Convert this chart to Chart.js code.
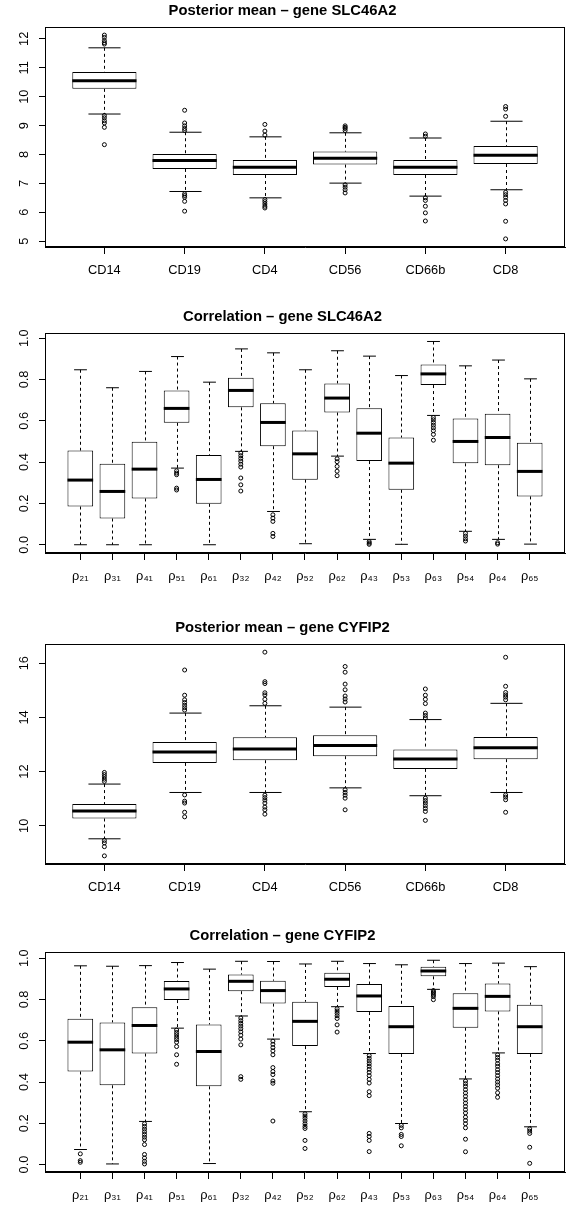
<!DOCTYPE html>
<html>
<head>
<meta charset="utf-8">
<script src="https://cdn.jsdelivr.net/npm/chart.js@4/dist/chart.umd.min.js"></script>
<style>
html, body { margin: 0; padding: 0; background: #fff; }
body { width: 571px; height: 1205px; position: relative; overflow: hidden; }
canvas { position: absolute; left: 0; }
</style>
</head>
<body>
<canvas id="slcMean" width="571" height="300" style="top:0px;width:571px;height:300px"></canvas>
<canvas id="slcCorr" width="571" height="300" style="top:306px;width:571px;height:300px"></canvas>
<canvas id="cyfMean" width="571" height="300" style="top:617px;width:571px;height:300px"></canvas>
<canvas id="cyfCorr" width="571" height="300" style="top:925px;width:571px;height:300px"></canvas>
<script>
// ---------- data ----------
const cellTypes = ["CD14", "CD19", "CD4", "CD56", "CD66b", "CD8"];
const rhoLabels = ["ρ₂₁", "ρ₃₁", "ρ₄₁", "ρ₅₁", "ρ₆₁", "ρ₃₂", "ρ₄₂", "ρ₅₂", "ρ₆₂", "ρ₄₃", "ρ₅₃", "ρ₆₃", "ρ₅₄", "ρ₆₄", "ρ₆₅"];

const slcMeanTicks = [5, 6, 7, 8, 9, 10, 11, 12];
const cyfMeanTicks = [10, 12, 14, 16];
const corrTicks = [0, 0.2, 0.4, 0.6, 0.8, 1.0];

// Posterior mean - SLC46A2
const slcMeanLow = [9.40, 6.72, 6.50, 7.01, 6.56, 6.78];
const slcMeanQ1 = [10.27, 7.50, 7.29, 7.65, 7.29, 7.67];
const slcMeanMed = [10.55, 7.79, 7.56, 7.87, 7.56, 7.97];
const slcMeanQ3 = [10.85, 8.02, 7.81, 8.10, 7.81, 8.29];
const slcMeanHigh = [11.69, 8.77, 8.61, 8.75, 8.57, 9.15];
const slcMeanOut = [
    [12.13, 12.05, 11.94, 11.87, 11.82, 9.35, 9.27, 9.17, 9.09, 8.94, 8.34],
    [9.53, 9.09, 8.99, 8.90, 8.83, 6.64, 6.58, 6.52, 6.38, 6.04],
    [9.04, 8.81, 8.67, 6.44, 6.37, 6.29, 6.21, 6.15],
    [8.99, 8.94, 8.90, 8.83, 6.95, 6.87, 6.78, 6.67],
    [8.71, 8.63, 6.50, 6.41, 6.21, 5.98, 5.70],
    [9.66, 9.57, 9.32, 6.69, 6.61, 6.52, 6.41, 6.29, 5.69, 5.08]
];

// Correlation - SLC46A2
const slcCorrLow = [0, 0, 0, 0.371, 0, 0.452, 0.161, 0.005, 0.429, 0.026, 0.002, 0.626, 0.065, 0.026, 0.003];
const slcCorrQ1 = [0.185, 0.127, 0.224, 0.590, 0.198, 0.665, 0.477, 0.315, 0.640, 0.405, 0.266, 0.773, 0.394, 0.385, 0.234];
const slcCorrMed = [0.313, 0.258, 0.366, 0.660, 0.316, 0.747, 0.592, 0.440, 0.710, 0.540, 0.395, 0.827, 0.500, 0.519, 0.355];
const slcCorrQ3 = [0.456, 0.392, 0.498, 0.747, 0.435, 0.808, 0.685, 0.553, 0.781, 0.661, 0.519, 0.873, 0.611, 0.634, 0.494];
const slcCorrHigh = [0.847, 0.760, 0.839, 0.911, 0.787, 0.948, 0.929, 0.847, 0.939, 0.913, 0.819, 0.984, 0.866, 0.894, 0.803];
const slcCorrOut = [
    [], [], [],
    [0.358, 0.347, 0.339, 0.274, 0.265],
    [],
    [0.444, 0.431, 0.418, 0.405, 0.390, 0.376, 0.323, 0.290, 0.260],
    [0.145, 0.129, 0.113, 0.055, 0.040],
    [],
    [0.416, 0.402, 0.379, 0.356, 0.334],
    [0.015, 0.008, 0.002],
    [],
    [0.616, 0.605, 0.592, 0.579, 0.566, 0.552, 0.534, 0.506],
    [0.055, 0.042, 0.029, 0.018],
    [0.010, 0.003],
    []
];

// Posterior mean - CYFIP2
const cyfMeanLow = [9.52, 11.23, 11.23, 11.40, 11.11, 11.23];
const cyfMeanQ1 = [10.27, 12.32, 12.42, 12.57, 12.10, 12.46];
const cyfMeanMed = [10.55, 12.72, 12.83, 12.96, 12.47, 12.88];
const cyfMeanQ3 = [10.80, 13.09, 13.27, 13.34, 12.82, 13.28];
const cyfMeanHigh = [11.54, 14.16, 14.43, 14.38, 13.92, 14.52];
const cyfMeanOut = [
    [11.97, 11.89, 11.81, 11.72, 11.64, 9.46, 9.37, 9.23, 8.89],
    [15.75, 14.82, 14.65, 14.55, 14.45, 14.36, 14.27, 11.14, 10.91, 10.84, 10.50, 10.33],
    [16.41, 15.32, 15.25, 14.91, 14.83, 14.67, 14.52, 11.13, 11.04, 10.95, 10.84, 10.69, 10.59, 10.43],
    [15.88, 15.67, 15.23, 15.02, 14.79, 14.68, 14.57, 11.33, 11.23, 11.13, 11.02, 10.59],
    [15.05, 14.82, 14.67, 14.51, 14.16, 14.07, 13.98, 11.02, 10.93, 10.84, 10.74, 10.64, 10.53, 10.20],
    [16.22, 15.15, 14.92, 14.83, 14.75, 14.65, 11.14, 11.06, 10.96, 10.50]
];

// Correlation - CYFIP2
const cyfCorrLow = [0.073, 0.003, 0.209, 0.661, 0.005, 0.720, 0.608, 0.256, 0.765, 0.538, 0.199, 0.849, 0.415, 0.541, 0.183];
const cyfCorrQ1 = [0.451, 0.384, 0.538, 0.797, 0.379, 0.840, 0.780, 0.574, 0.861, 0.739, 0.536, 0.912, 0.663, 0.742, 0.536];
const cyfCorrMed = [0.593, 0.556, 0.674, 0.851, 0.548, 0.888, 0.843, 0.694, 0.898, 0.817, 0.668, 0.938, 0.757, 0.815, 0.668];
const cyfCorrQ3 = [0.707, 0.689, 0.762, 0.890, 0.679, 0.921, 0.891, 0.789, 0.929, 0.875, 0.768, 0.958, 0.830, 0.877, 0.775];
const cyfCorrHigh = [0.963, 0.961, 0.964, 0.979, 0.947, 0.985, 0.984, 0.972, 0.985, 0.974, 0.968, 0.990, 0.974, 0.976, 0.959];
const cyfCorrOut = [
    [0.052, 0.019, 0.011],
    [],
    [0.198, 0.185, 0.172, 0.159, 0.146, 0.133, 0.120, 0.097, 0.049, 0.032, 0.016, 0.003],
    [0.652, 0.640, 0.629, 0.617, 0.606, 0.593, 0.572, 0.532, 0.486],
    [],
    [0.710, 0.697, 0.684, 0.671, 0.658, 0.643, 0.627, 0.608, 0.580, 0.426, 0.413],
    [0.598, 0.583, 0.567, 0.551, 0.532, 0.470, 0.451, 0.436, 0.405, 0.394, 0.211],
    [0.246, 0.235, 0.224, 0.211, 0.198, 0.185, 0.175, 0.117, 0.078],
    [0.755, 0.744, 0.733, 0.721, 0.708, 0.677, 0.642],
    [0.528, 0.515, 0.502, 0.489, 0.476, 0.462, 0.447, 0.431, 0.413, 0.395, 0.353, 0.334, 0.151, 0.136, 0.117, 0.063],
    [0.190, 0.178, 0.146, 0.136, 0.091],
    [0.843, 0.836, 0.830, 0.822, 0.814, 0.799],
    [0.405, 0.392, 0.379, 0.363, 0.347, 0.331, 0.314, 0.298, 0.282, 0.266, 0.250, 0.230, 0.214, 0.198, 0.178, 0.123, 0.062],
    [0.532, 0.519, 0.506, 0.489, 0.476, 0.460, 0.446, 0.431, 0.415, 0.400, 0.386, 0.370, 0.348, 0.326],
    [0.173, 0.162, 0.151, 0.084, 0.006]
];

// ---------- look ----------
Chart.defaults.font.family = '"Liberation Sans", Arial, Helvetica, sans-serif';
Chart.defaults.color = "#000";

const TICK_FONT = 12.8;
const TITLE_FONT = 14.8;

// whiskers, caps and median bars drawn through the chart's own scales
const boxWhiskers = {
    id: "boxWhiskers",
    beforeDatasetsDraw(chart, args, opts) {
        const { ctx } = chart;
        const x = chart.scales.x, y = chart.scales.y;
        const bars = chart.getDatasetMeta(1).data;
        ctx.save();
        ctx.strokeStyle = "#000";
        ctx.lineWidth = 1;
        opts.low.forEach((lo, i) => {
            const px = Math.round(x.getPixelForValue(i + 1)) + 0.5;
            const half = bars[i].width / 4;
            const yLo = y.getPixelForValue(lo), yHi = y.getPixelForValue(opts.high[i]);
            const yQ1 = y.getPixelForValue(opts.q1[i]), yQ3 = y.getPixelForValue(opts.q3[i]);
            ctx.setLineDash([3, 3]);
            ctx.beginPath();
            ctx.moveTo(px, yHi); ctx.lineTo(px, yQ3);
            ctx.moveTo(px, yQ1); ctx.lineTo(px, yLo);
            ctx.stroke();
            ctx.setLineDash([]);
            ctx.beginPath();
            ctx.moveTo(px - half, yHi); ctx.lineTo(px + half, yHi);
            ctx.moveTo(px - half, yLo); ctx.lineTo(px + half, yLo);
            ctx.stroke();
        });
        ctx.restore();
    },
    afterDatasetsDraw(chart, args, opts) {
        const { ctx } = chart;
        const x = chart.scales.x, y = chart.scales.y;
        const bars = chart.getDatasetMeta(1).data;
        ctx.save();
        ctx.strokeStyle = "#000";
        ctx.lineWidth = 3;
        ctx.lineCap = "butt";
        opts.med.forEach((m, i) => {
            const px = x.getPixelForValue(i + 1);
            const half = bars[i].width / 2;
            const py = y.getPixelForValue(m);
            ctx.beginPath();
            ctx.moveTo(px - half, py); ctx.lineTo(px + half, py);
            ctx.stroke();
        });
        ctx.restore();
    },
    afterDraw(chart) {
        const { ctx, chartArea: a } = chart;
        ctx.save();
        ctx.strokeStyle = "#000";
        ctx.lineWidth = 1;
        ctx.strokeRect(a.left + 0.5, a.top + 0.5, a.right - a.left - 1, a.bottom - a.top - 1);
        ctx.restore();
    }
};

function drawBoxChart(canvasId, title, labels, low, q1, med, q3, high, outliers, yTicks, yMin, yMax, tickFmt, yPad) {
    const n = labels.length;
    const ext = n * 0.04;
    const boxes = labels.map((lab, i) => ({ x: i + 1, y: [q1[i], q3[i]] }));
    const points = [];
    outliers.forEach((list, i) => list.forEach(v => points.push({ x: i + 1, y: v })));

    return new Chart(document.getElementById(canvasId), {
        type: "bar",
        data: {
            datasets: [{
                type: "scatter",
                data: points,
                pointStyle: "circle",
                pointRadius: 2,
                borderWidth: 1,
                borderColor: "#000",
                backgroundColor: "rgba(0,0,0,0)"
            }, {
                data: boxes,
                backgroundColor: "#ffffff",
                borderColor: "#000000",
                borderWidth: 1,
                borderSkipped: false,
                categoryPercentage: 1,
                barPercentage: 0.8
            }]
        },
        options: {
            responsive: false,
            animation: false,
            events: [],
            layout: { padding: { left: 0, right: 6, top: 0, bottom: 0 } },
            plugins: {
                legend: { display: false },
                tooltip: { enabled: false },
                title: {
                    display: true,
                    text: title,
                    color: "#000",
                    font: { size: TITLE_FONT, weight: "bold", lineHeight: 1.2 },
                    padding: { top: 2.5, bottom: 6.74 }
                },
                boxWhiskers: { low, q1, med, q3, high }
            },
            scales: {
                x: {
                    type: "linear",
                    min: 0.5 - ext,
                    max: n + 0.5 + ext,
                    offset: false,
                    afterBuildTicks: s => { s.ticks = labels.map((l, i) => ({ value: i + 1 })); },
                    afterFit: s => { s.height = 53; },
                    ticks: {
                        callback: v => labels[Math.round(v) - 1],
                        font: { size: TICK_FONT },
                        padding: 9,
                        maxRotation: 0,
                        autoSkip: false
                    },
                    grid: { drawOnChartArea: false, drawTicks: true, tickLength: 7, color: "#000", offset: false },
                    border: { display: true, color: "#000" }
                },
                y: {
                    min: yMin,
                    max: yMax,
                    afterBuildTicks: s => { s.ticks = yTicks.map(v => ({ value: v })); },
                    afterFit: s => { s.width = 45; },
                    ticks: {
                        callback: tickFmt,
                        font: { size: TICK_FONT },
                        minRotation: 90,
                        maxRotation: 90,
                        crossAlign: "center",
                        padding: yPad
                    },
                    grid: { drawOnChartArea: false, drawTicks: true, tickLength: 6, color: "#000" },
                    border: { display: true, color: "#000" }
                }
            }
        },
        plugins: [boxWhiskers]
    });
}

const plainFmt = v => String(v);
const corrFmt = v => v.toFixed(1);

drawBoxChart("slcMean", "Posterior mean \u2013 gene SLC46A2", cellTypes,
    slcMeanLow, slcMeanQ1, slcMeanMed, slcMeanQ3, slcMeanHigh, slcMeanOut,
    slcMeanTicks, 4.80, 12.41, plainFmt, 7.5);
drawBoxChart("slcCorr", "Correlation \u2013 gene SLC46A2", rhoLabels,
    slcCorrLow, slcCorrQ1, slcCorrMed, slcCorrQ3, slcCorrHigh, slcCorrOut,
    corrTicks, -0.04, 1.025, corrFmt, 6);
drawBoxChart("cyfMean", "Posterior mean \u2013 gene CYFIP2", cellTypes,
    cyfMeanLow, cyfMeanQ1, cyfMeanMed, cyfMeanQ3, cyfMeanHigh, cyfMeanOut,
    cyfMeanTicks, 8.59, 16.71, plainFmt, 7.5);
drawBoxChart("cyfCorr", "Correlation \u2013 gene CYFIP2", rhoLabels,
    cyfCorrLow, cyfCorrQ1, cyfCorrMed, cyfCorrQ3, cyfCorrHigh, cyfCorrOut,
    corrTicks, -0.036, 1.03, corrFmt, 6);
</script>
</body>
</html>
